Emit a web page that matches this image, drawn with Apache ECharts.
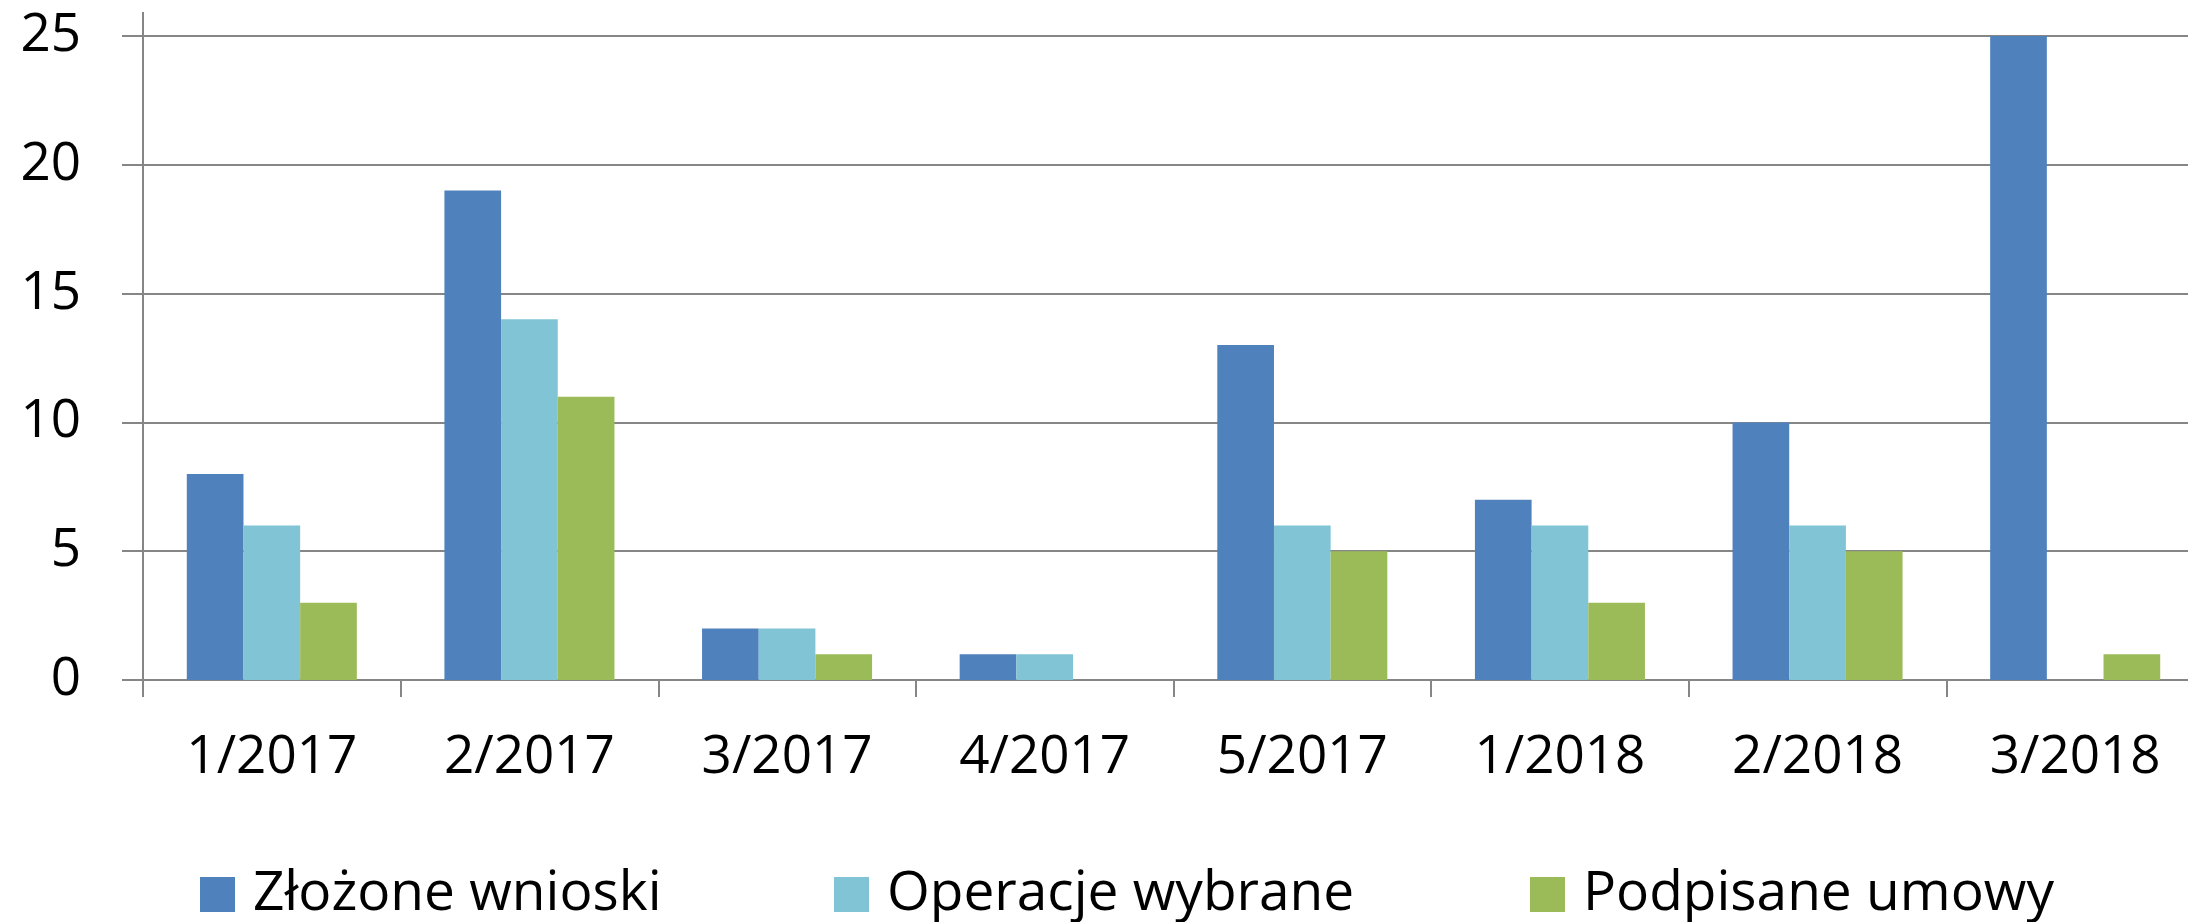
<!DOCTYPE html>
<html>
<head>
<meta charset="utf-8">
<script src="https://cdn.jsdelivr.net/npm/echarts@6/dist/echarts.min.js"></script>
<style>
html,body{margin:0;padding:0;background:#fff;}
#chart{width:2188px;height:922px;}
</style>
</head>
<body>
<div id="chart"></div>
<script>
const categories = ['1/2017','2/2017','3/2017','4/2017','5/2017','1/2018','2/2018','3/2018'];
const zlozoneWnioski = [8, 19, 2, 1, 13, 7, 10, 25];
const operacjeWybrane = [6, 14, 2, 1, 6, 6, 6, 0];
const podpisaneUmowy = [3, 11, 1, 0, 5, 3, 5, 1];
const seriesNames = ['Złożone wnioski', 'Operacje wybrane', 'Podpisane umowy'];
const colors = ['#4F81BD', '#80C4D6', '#9BBB59'];
const yMin = 0, yMax = 25, yInterval = 5;

const FONT = '"Open Sans", "Noto Sans", sans-serif';
const chart = echarts.init(document.getElementById('chart'), null, {renderer: 'canvas'});
const axisColor = '#868686';

function legendFor(i, left) {
  return {
    data: [seriesNames[i]],
    left: left,
    top: 867,
    orient: 'horizontal',
    itemWidth: 35,
    itemHeight: 35,
    icon: 'rect',
    padding: 0,
    textStyle: {fontFamily: FONT, fontSize: 55, lineHeight: 35, color: '#000', padding: [0, 0, 0, 13]},
    selectedMode: false
  };
}

const option = {
  animation: false,
  backgroundColor: '#fff',
  color: colors,
  grid: {left: 143, width: 2061, top: 36, bottom: 242, containLabel: false, outerBoundsMode: 'none'},
  legend: [legendFor(0, 200), legendFor(1, 834), legendFor(2, 1530)],
  xAxis: {
    type: 'category',
    data: categories,
    boundaryGap: true,
    axisLine: {show: true, lineStyle: {color: axisColor, width: 2}},
    axisTick: {show: true, length: 17, alignWithLabel: false, lineStyle: {color: axisColor, width: 2}},
    axisLabel: {fontFamily: FONT, fontSize: 53, color: '#000', margin: 51, interval: 0}
  },
  yAxis: {
    type: 'value',
    min: yMin, max: yMax, interval: yInterval,
    axisLine: {show: true, lineStyle: {color: axisColor, width: 2}},
    axisTick: {show: true, length: 21, lineStyle: {color: axisColor, width: 2}},
    splitLine: {show: true, lineStyle: {color: axisColor, width: 2}},
    axisLabel: {fontFamily: FONT, fontSize: 53, color: '#000', margin: 62}
  },
  series: [
    {name: seriesNames[0], type: 'bar', data: zlozoneWnioski, barGap: '0%', barCategoryGap: '34%'},
    {name: seriesNames[1], type: 'bar', data: operacjeWybrane, barGap: '0%', barCategoryGap: '34%'},
    {name: seriesNames[2], type: 'bar', data: podpisaneUmowy, barGap: '0%', barCategoryGap: '34%'}
  ]
};
chart.setOption(option);

// extend the y axis line slightly above the top gridline, as in the original
const topPx = chart.convertToPixel({yAxisIndex: 0}, yMax);
const step = chart.convertToPixel({xAxisIndex: 0}, 1) - chart.convertToPixel({xAxisIndex: 0}, 0);
const xPx = chart.convertToPixel({xAxisIndex: 0}, 0) - step / 2;
chart.setOption({
  graphic: [{
    type: 'line',
    shape: {x1: xPx, y1: topPx - 24, x2: xPx, y2: topPx},
    style: {stroke: axisColor, lineWidth: 2},
    silent: true
  }]
});
</script>
</body>
</html>
